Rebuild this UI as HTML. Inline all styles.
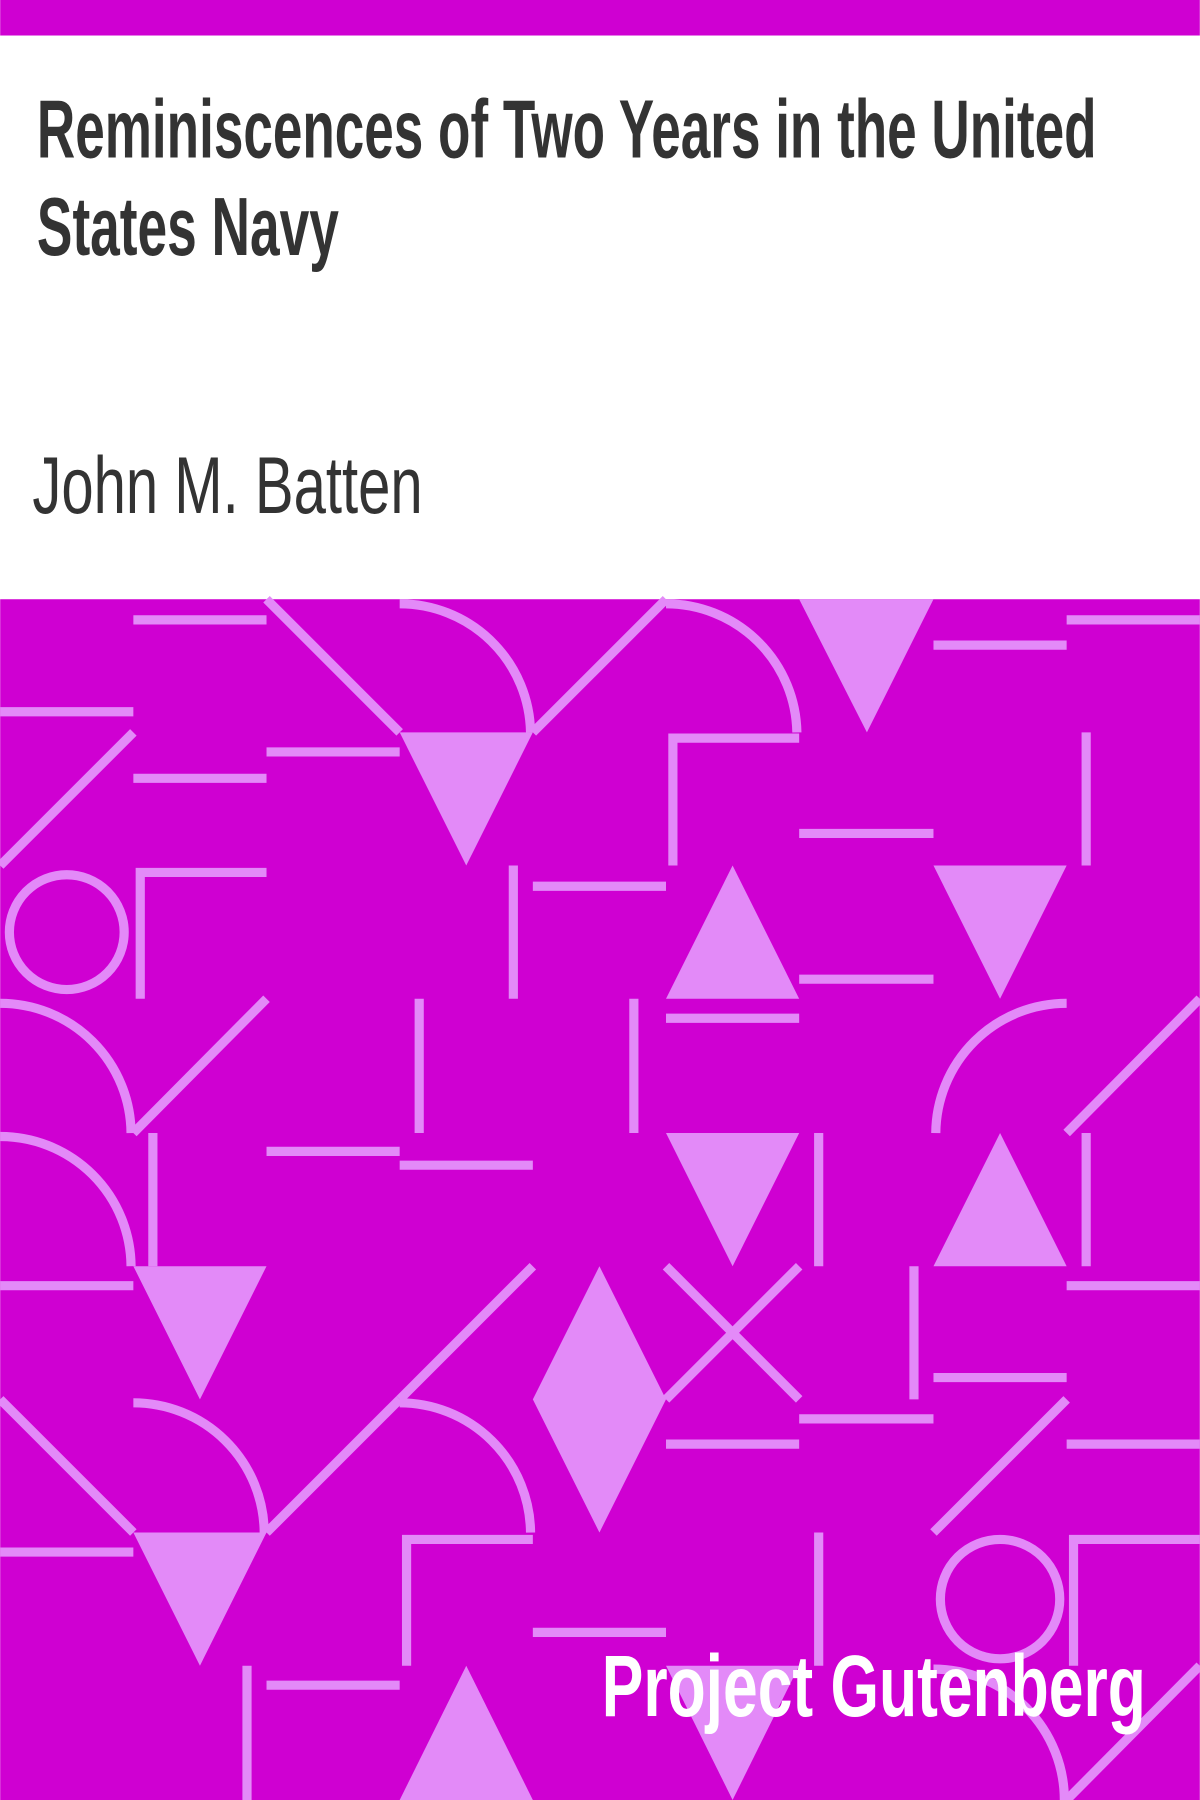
<!DOCTYPE html>
<html><head><meta charset="utf-8"><style>
html,body{margin:0;padding:0;width:1200px;height:1800px;overflow:hidden;background:#fff}
svg{display:block}
</style></head><body>
<svg width="1200" height="1800" viewBox="0 0 1045 1568" xmlns="http://www.w3.org/2000/svg">
<rect x="0" y="0" width="1045" height="31" fill="#cf00d2"/>
<rect x="0" y="31" width="1045" height="491" fill="#ffffff"/>
<text x="32" y="137" font-family="'Liberation Sans Narrow','Liberation Sans',sans-serif" font-weight="bold" font-size="72" fill="#333" textLength="923" lengthAdjust="spacingAndGlyphs">Reminiscences of Two Years in the United</text>
<text x="32" y="222" font-family="'Liberation Sans Narrow','Liberation Sans',sans-serif" font-weight="bold" font-size="72" fill="#333" textLength="263" lengthAdjust="spacingAndGlyphs">States Navy</text>
<text x="28" y="447" font-family="'Liberation Sans Narrow','Liberation Sans',sans-serif" font-size="70" fill="#333" textLength="340" lengthAdjust="spacingAndGlyphs">John M. Batten</text>
<rect x="0" y="522" width="1045" height="1046" fill="#cf00d2"/>
<g stroke="#e38af8" stroke-width="8" fill="none">
<!-- row 0 -->
<line x1="116" y1="540" x2="232" y2="540"/>
<line x1="232" y1="522" x2="348" y2="638"/>
<path d="M348 526 A114 114 0 0 1 462 638"/>
<line x1="464" y1="638" x2="580" y2="522"/>
<path d="M580 526 A114 114 0 0 1 694 638"/>
<line x1="813" y1="562" x2="929" y2="562"/>
<line x1="929" y1="540" x2="1045" y2="540"/>
<line x1="0" y1="620" x2="116" y2="620"/>
<!-- row 1 -->
<line x1="116" y1="638" x2="0" y2="754"/>
<line x1="116" y1="678" x2="232" y2="678"/>
<line x1="232" y1="655" x2="348" y2="655"/>
<path d="M586 754 V643 H696"/>
<line x1="696" y1="726" x2="813" y2="726"/>
<line x1="946" y1="638" x2="946" y2="754"/>
<!-- row 2 -->
<circle cx="58" cy="812" r="50"/>
<path d="M122 870 V760 H232"/>
<line x1="447" y1="754" x2="447" y2="870"/>
<line x1="464" y1="772" x2="580" y2="772"/>
<line x1="696" y1="853" x2="813" y2="853"/>
<!-- row 3 -->
<path d="M0 874 A114 114 0 0 1 114 987"/>
<line x1="116" y1="987" x2="232" y2="870"/>
<line x1="365" y1="870" x2="365" y2="987"/>
<line x1="552" y1="870" x2="552" y2="987"/>
<line x1="580" y1="887" x2="696" y2="887"/>
<path d="M815 987 A114 114 0 0 1 929 874"/>
<line x1="929" y1="987" x2="1045" y2="870"/>
<!-- row 4 -->
<path d="M0 990 A114 114 0 0 1 114 1103"/>
<line x1="133" y1="987" x2="133" y2="1103"/>
<line x1="232" y1="1003" x2="348" y2="1003"/>
<line x1="348" y1="1015" x2="464" y2="1015"/>
<line x1="713" y1="987" x2="713" y2="1103"/>
<line x1="946" y1="987" x2="946" y2="1103"/>
<!-- row 5 -->
<line x1="0" y1="1120" x2="116" y2="1120"/>
<line x1="348" y1="1219" x2="464" y2="1103"/>
<line x1="580" y1="1103" x2="696" y2="1219"/>
<line x1="696" y1="1103" x2="580" y2="1219"/>
<line x1="796" y1="1103" x2="796" y2="1219"/>
<line x1="813" y1="1200" x2="929" y2="1200"/>
<line x1="929" y1="1120" x2="1045" y2="1120"/>
<!-- row 6 -->
<line x1="0" y1="1219" x2="116" y2="1335"/>
<path d="M116 1222 A114 114 0 0 1 230 1335"/>
<line x1="232" y1="1335" x2="348" y2="1219"/>
<path d="M348 1222 A114 114 0 0 1 462 1335"/>
<line x1="580" y1="1258" x2="696" y2="1258"/>
<line x1="696" y1="1236" x2="813" y2="1236"/>
<line x1="813" y1="1335" x2="929" y2="1219"/>
<line x1="929" y1="1258" x2="1045" y2="1258"/>
<!-- row 7 -->
<line x1="0" y1="1352" x2="116" y2="1352"/>
<path d="M354 1451 V1341 H464"/>
<line x1="464" y1="1422" x2="580" y2="1422"/>
<line x1="713" y1="1335" x2="713" y2="1451"/>
<circle cx="871" cy="1393" r="52"/>
<path d="M935 1451 V1341 H1045"/>
<!-- row 8 -->
<line x1="215" y1="1451" x2="215" y2="1568"/>
<line x1="232" y1="1468" x2="348" y2="1468"/>
<path d="M813 1454 A114 114 0 0 1 927 1568"/>
<line x1="929" y1="1568" x2="1045" y2="1451"/>
</g>
<g fill="#e38af8">
<polygon points="696,522 813,522 755,638"/>
<polygon points="348,638 464,638 406,754"/>
<polygon points="580,870 696,870 638,754"/>
<polygon points="813,754 929,754 871,870"/>
<polygon points="580,987 696,987 638,1103"/>
<polygon points="813,1103 929,1103 871,987"/>
<polygon points="116,1103 232,1103 174,1219"/>
<polygon points="522,1103 580,1219 522,1335 464,1219"/>
<polygon points="116,1335 232,1335 174,1451"/>
<polygon points="348,1568 464,1568 406,1451"/>
<polygon points="580,1451 696,1451 638,1568"/>
</g>
<text x="524" y="1495" font-family="'Liberation Sans Narrow','Liberation Sans',sans-serif" font-weight="bold" font-size="76" fill="#ffffff" textLength="474" lengthAdjust="spacingAndGlyphs">Project Gutenberg</text>
</svg>
</body></html>
